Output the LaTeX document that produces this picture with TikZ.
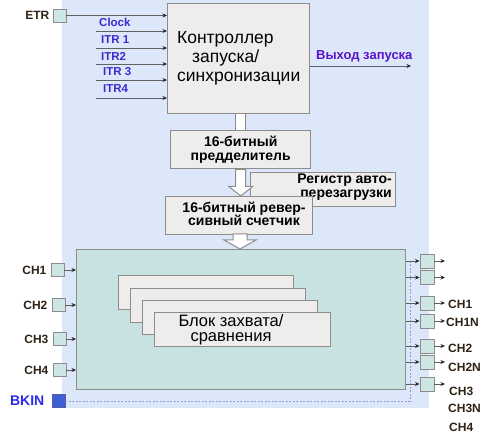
\documentclass[tikz,border=0pt]{standalone}
\usepackage{fontspec}
\setmainfont{Liberation Sans}
\usetikzlibrary{arrows.meta,calc}
\definecolor{bgblue}{HTML}{DCE8FA}
\definecolor{boxgray}{HTML}{EEEDEB}
\definecolor{edgegray}{HTML}{8C8C8C}
\definecolor{tealfill}{HTML}{C8E2E1}
\definecolor{sqfill}{HTML}{CDE6E4}
\definecolor{lblue}{HTML}{3B2BD0}
\definecolor{outblue}{HTML}{5A12CC}
\definecolor{bkblue}{HTML}{2B2BEE}
\definecolor{bkfill}{HTML}{3F5ED6}
\definecolor{darktxt}{HTML}{2E2216}
\definecolor{dotblue}{HTML}{8C9CE0}
\begin{document}
\begin{tikzpicture}[x=1pt,y=-1pt,
 blk/.style={draw=edgegray,line width=1.4pt,fill=boxgray,anchor=north west,inner sep=0pt},
 sq/.style={draw=edgegray,line width=0.9pt,fill=sqfill,minimum size=13pt,inner sep=0pt},
 arr/.style={draw=gray!75!black,line width=0.9pt,-{Stealth[length=4.5pt,width=4pt,color=black!85]}},
 hollow/.style={draw=edgegray,fill=white,line width=1pt},
 lab/.style={font=\fontsize{11.5}{12}\selectfont\bfseries,text=lblue,inner sep=0pt,anchor=west},
 chl/.style={font=\fontsize{12}{12}\selectfont\bfseries,text=darktxt,inner sep=0pt},
 bigtxt/.style={font=\fontsize{14}{13.5}\selectfont\bfseries,inner sep=0pt},
]
\useasboundingbox (0,0) rectangle (496,441);
\fill[bgblue] (62,0) rectangle (429,408);

% controller
\node[blk,minimum width=142pt,minimum height=110pt,align=left,
      font=\fontsize{17.5}{19}\selectfont] (ctrl) at (167,3)
      {Контроллер\\\hspace*{15pt}запуска/\\синхронизации};

% inputs
\node[sq] (etr) at (59.5,15.5) {};
\node[chl,anchor=east] (letr) at ($(etr.west)+(-3,0)$) {ETR};
\draw[arr] (etr.east) -- (etr.east -| ctrl.west);
\foreach \i/\y in {1/31,2/48,3/64,4/80,5/98}{
  \coordinate (c\i) at (96,\y);
  \draw[arr] (c\i) -- (c\i -| ctrl.west);
}
\node[lab] (lclk) at (99,22) {Clock};
\node[lab] (litr1) at (101,40) {ITR 1};
\node[lab] (litr2) at (101,56) {ITR2};
\node[lab] (litr3) at (103,72) {ITR 3};
\node[lab] (litr4) at (103,89) {ITR4};

% trigger output
\coordinate (trg) at (411,66);
\draw[arr] (trg -| ctrl.east) -- (trg);
\node[font=\fontsize{13}{14}\selectfont\bfseries,text=outblue,anchor=west,inner sep=0pt]
  (ltrg) at (316,56) {Выход запуска};

% prescaler
\node[blk,minimum width=140pt,minimum height=38pt,align=center,bigtxt] (pre) at (170,130)
  {16-битный\\предделитель};
\fill[white] ($(pre.north |- ctrl.south)+(-5,0)$) rectangle ($(pre.north)+(5,0)$);
\draw[edgegray,line width=1pt] ($(pre.north |- ctrl.south)+(-5,0)$) -- ($(pre.north)+(-5,0)$)
  ($(pre.north |- ctrl.south)+(5,0)$) -- ($(pre.north)+(5,0)$);

% auto-reload register
\node[blk,minimum width=145pt,minimum height=34pt] (reg) at (250,172) {};
\node[bigtxt,align=right,anchor=east] (lreg) at (392,187) {Регистр авто-\\перезагрузки};

% counter
\node[blk,minimum width=147pt,minimum height=38pt] (cnt) at (165,196) {};
\node[bigtxt,align=center] (lcnt) at (244,214) {16-битный ревер-\\сивный счетчик};

\draw[hollow] ($(pre.south)+(-5,0)$) -- ++(0,17) -- ++(-7,0) -- (pre.south |- cnt.north)
  -- ($(pre.south)+(12,17)$) -- ++(-7,0) -- ($(pre.south)+(5,0)$) -- cycle;

% big capture/compare block
\node[draw=edgegray,line width=1.4pt,fill=tealfill,anchor=north west,
      minimum width=329pt,minimum height=140pt,inner sep=0pt] (big) at (76,249) {};
\coordinate (a3) at (240,234);
\draw[hollow] ($(a3)+(-7,0)$) -- ++(0,6) -- ++(-9,0) -- (a3 |- big.north)
  -- ($(a3)+(16,6)$) -- ++(-9,0) -- ($(a3)+(7,0)$) -- cycle;

\node[blk,line width=1pt,minimum width=175pt,minimum height=34pt] (cap1) at (118,275) {};
\node[blk,line width=1pt,minimum width=175pt,minimum height=34pt] (cap2) at (130,288) {};
\node[blk,line width=1pt,minimum width=175pt,minimum height=34pt] (cap3) at (142,300) {};
\node[blk,line width=1pt,minimum width=176pt,minimum height=34pt] (cap4) at (154,312) {};
\node[font=\fontsize{16.5}{15}\selectfont,align=center,inner sep=0pt] (lcap) at (231,329.5)
  {Блок захвата/\\сравнения};

% left channels
\foreach \n/\x/\y in {1/57.5/270,2/58.5/305,3/59.5/339,4/59.5/370}{
  \node[sq] (ch\n) at (\x,\y) {};
  \node[chl,anchor=east] (lch\n) at ($(ch\n.west)+(-4,0)$) {CH\n};
  \draw[arr] (ch\n.east) -- (ch\n.east -| big.west);
}

% BKIN
\node[draw=gray!70!blue,line width=0.9pt,fill=bkfill,minimum size=13pt,inner sep=0pt] (bkin) at (58.5,401) {};
\node[font=\fontsize{14}{15}\selectfont\bfseries,text=bkblue,anchor=east,inner sep=0pt] (lbkin) at (44.5,401) {BKIN};
\coordinate (bkc) at (410,261);
\draw[dotblue,line width=0.7pt,dash pattern=on 2pt off 1.5pt] (bkin.east) -| (bkc);

% outputs
\foreach \i/\y in {1/261,2/277.5,3/303,4/321,5/346,6/362,7/384}{
  \node[sq,minimum size=14pt] (o\i) at (427,\y) {};
  \coordinate (e\i) at (445,\y);
  \draw[arr] (o\i.west -| big.east) -- (o\i.west);
  \draw[arr] (o\i.east) -- (e\i);
}
\node[chl,anchor=west] (r1) at (448,304) {CH1};
\node[chl,anchor=west] (r2) at (446,322) {CH1N};
\node[chl,anchor=west] (r3) at (448,348) {CH2};
\node[chl,anchor=west] (r4) at (448,367) {CH2N};
\node[chl,anchor=west] (r5) at (449,391) {CH3};
\node[chl,anchor=west] (r6) at (448,408) {CH3N};
\node[chl,anchor=west] (r7) at (449,427) {CH4};
\end{tikzpicture}
\end{document}
